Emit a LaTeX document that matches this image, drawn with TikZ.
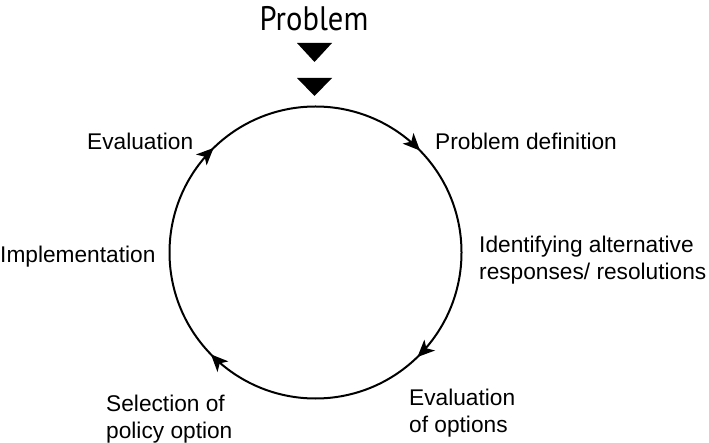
\documentclass[tikz,border=0pt]{standalone}
\usepackage{fontspec}
\setmainfont{Liberation Sans}
\newfontfamily\probfont[FakeStretch=0.9]{PT Sans}
\usetikzlibrary{arrows.meta,decorations.markings}
\begin{document}
\begin{tikzpicture}[x=1bp,y=-1bp,
  lbl/.style={inner sep=0pt, anchor=base west, align=left,
    font=\fontsize{22.7bp}{27bp}\selectfont},
  tri/.style={fill=black},
  cyc/.style={line width=2bp, postaction={decorate},
    decoration={markings,
      mark=at position 0.127 with {\arrow{Stealth[length=17bp,width=15bp,inset=4.5bp]}},
      mark=at position 0.377 with {\arrow{Stealth[length=17bp,width=15bp,inset=4.5bp]}},
      mark=at position 0.627 with {\arrow{Stealth[length=17bp,width=15bp,inset=4.5bp]}},
      mark=at position 0.877 with {\arrow{Stealth[length=17bp,width=15bp,inset=4.5bp]}}}}]
\useasboundingbox (0,0) rectangle (709,443);
\fill[white] (0,0) rectangle (709,443);
% title
\node[inner sep=0pt, anchor=base, font=\probfont\fontsize{34bp}{40bp}\selectfont] (prob) at (314,30.7) {Problem};
\fill[tri] (297,43) -- (332,43) -- (314.5,62) -- cycle;
\fill[tri] (297,78) -- (332,78) -- (314.5,96) -- cycle;
% cycle
\coordinate (c) at (315.5,252.5);
\draw[cyc] (315.5,106.5) arc[start angle=-90, end angle=270, radius=146];
% labels
\node[lbl] (pd) at (435,150) {Problem definition};
\node[lbl] (ia) at (479,280) {Identifying alternative\\responses/ resolutions};
\node[lbl] (eo) at (409,432) {Evaluation\\of options};
\node[lbl] (sp) at (106,438) {Selection of\\policy option};
\node[lbl] (im) at (0,263) {Implementation};
\node[lbl] (ev) at (87,150) {Evaluation};
\end{tikzpicture}
\end{document}
